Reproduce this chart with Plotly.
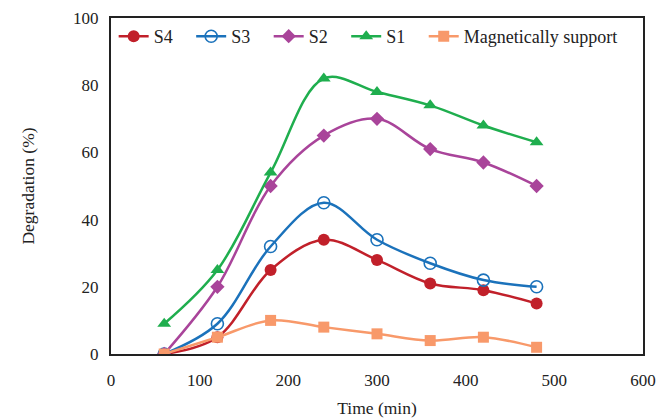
import plotly.graph_objects as go

time = [60, 120, 180, 240, 300, 360, 420, 480]
s4 = [0, 5, 25, 34, 28, 21, 19, 15]
s3 = [0, 9, 32, 45, 34, 27, 22, 20]
s2 = [0, 20, 50, 65, 70, 61, 57, 50]
s1 = [9, 25, 54, 82, 78, 74, 68, 63]
mag = [0, 5, 10, 8, 6, 4, 5, 2]

pad = "\u00a0\u00a0\u00a0"
series = [
    ("S4", s4, "#C1202A", dict(symbol="circle", size=12)),
    ("S3", s3, "#1B72BB", dict(symbol="circle-open", size=12, line=dict(width=1.6))),
    ("S2", s2, "#A9449A", dict(symbol="diamond", size=11)),
    ("S1", s1, "#1FAE4E", dict(symbol="triangle-up", size=12)),
    ("Magnetically support", mag, "#F8996A", dict(symbol="square", size=11)),
]

fig = go.Figure()
for name, ys, color, mk in series:
    label = name if name.startswith("Mag") else name + pad
    fig.add_trace(go.Scatter(
        x=time, y=ys, name=label, mode="lines+markers",
        line=dict(color=color, width=2.5, shape="spline", smoothing=1.0),
        marker=dict(color=color, **mk),
    ))

font = dict(family="Liberation Serif, Times New Roman, serif", color="#222", size=17)
fig.update_layout(
    width=667, height=418,
    margin=dict(l=111, r=24, t=18, b=64),
    plot_bgcolor="white", paper_bgcolor="white",
    font=font,
    showlegend=True,
    legend=dict(orientation="h", x=0.005, y=1.0, xanchor="left", yanchor="top",
                bgcolor="rgba(0,0,0,0)", font=dict(size=18),
                tracegroupgap=0),
    xaxis=dict(range=[0, 600], tick0=0, dtick=100, showgrid=False, zeroline=False,
               showline=True, linecolor="#222", linewidth=2, mirror=True,
               ticks="", ticklabelstandoff=10, automargin=False,
               title=dict(text="Time (min)", standoff=14, font=dict(size=17.5)),
               tickfont=dict(size=17)),
    yaxis=dict(range=[0, 100], tick0=0, dtick=20, showgrid=False, zeroline=False,
               showline=True, linecolor="#222", linewidth=2, mirror=True,
               ticks="", ticklabelstandoff=7, automargin=False,
               title=dict(text="Degradation (%)", standoff=34, font=dict(size=17.5)),
               tickfont=dict(size=17)),
)
fig.write_html("out.html")
